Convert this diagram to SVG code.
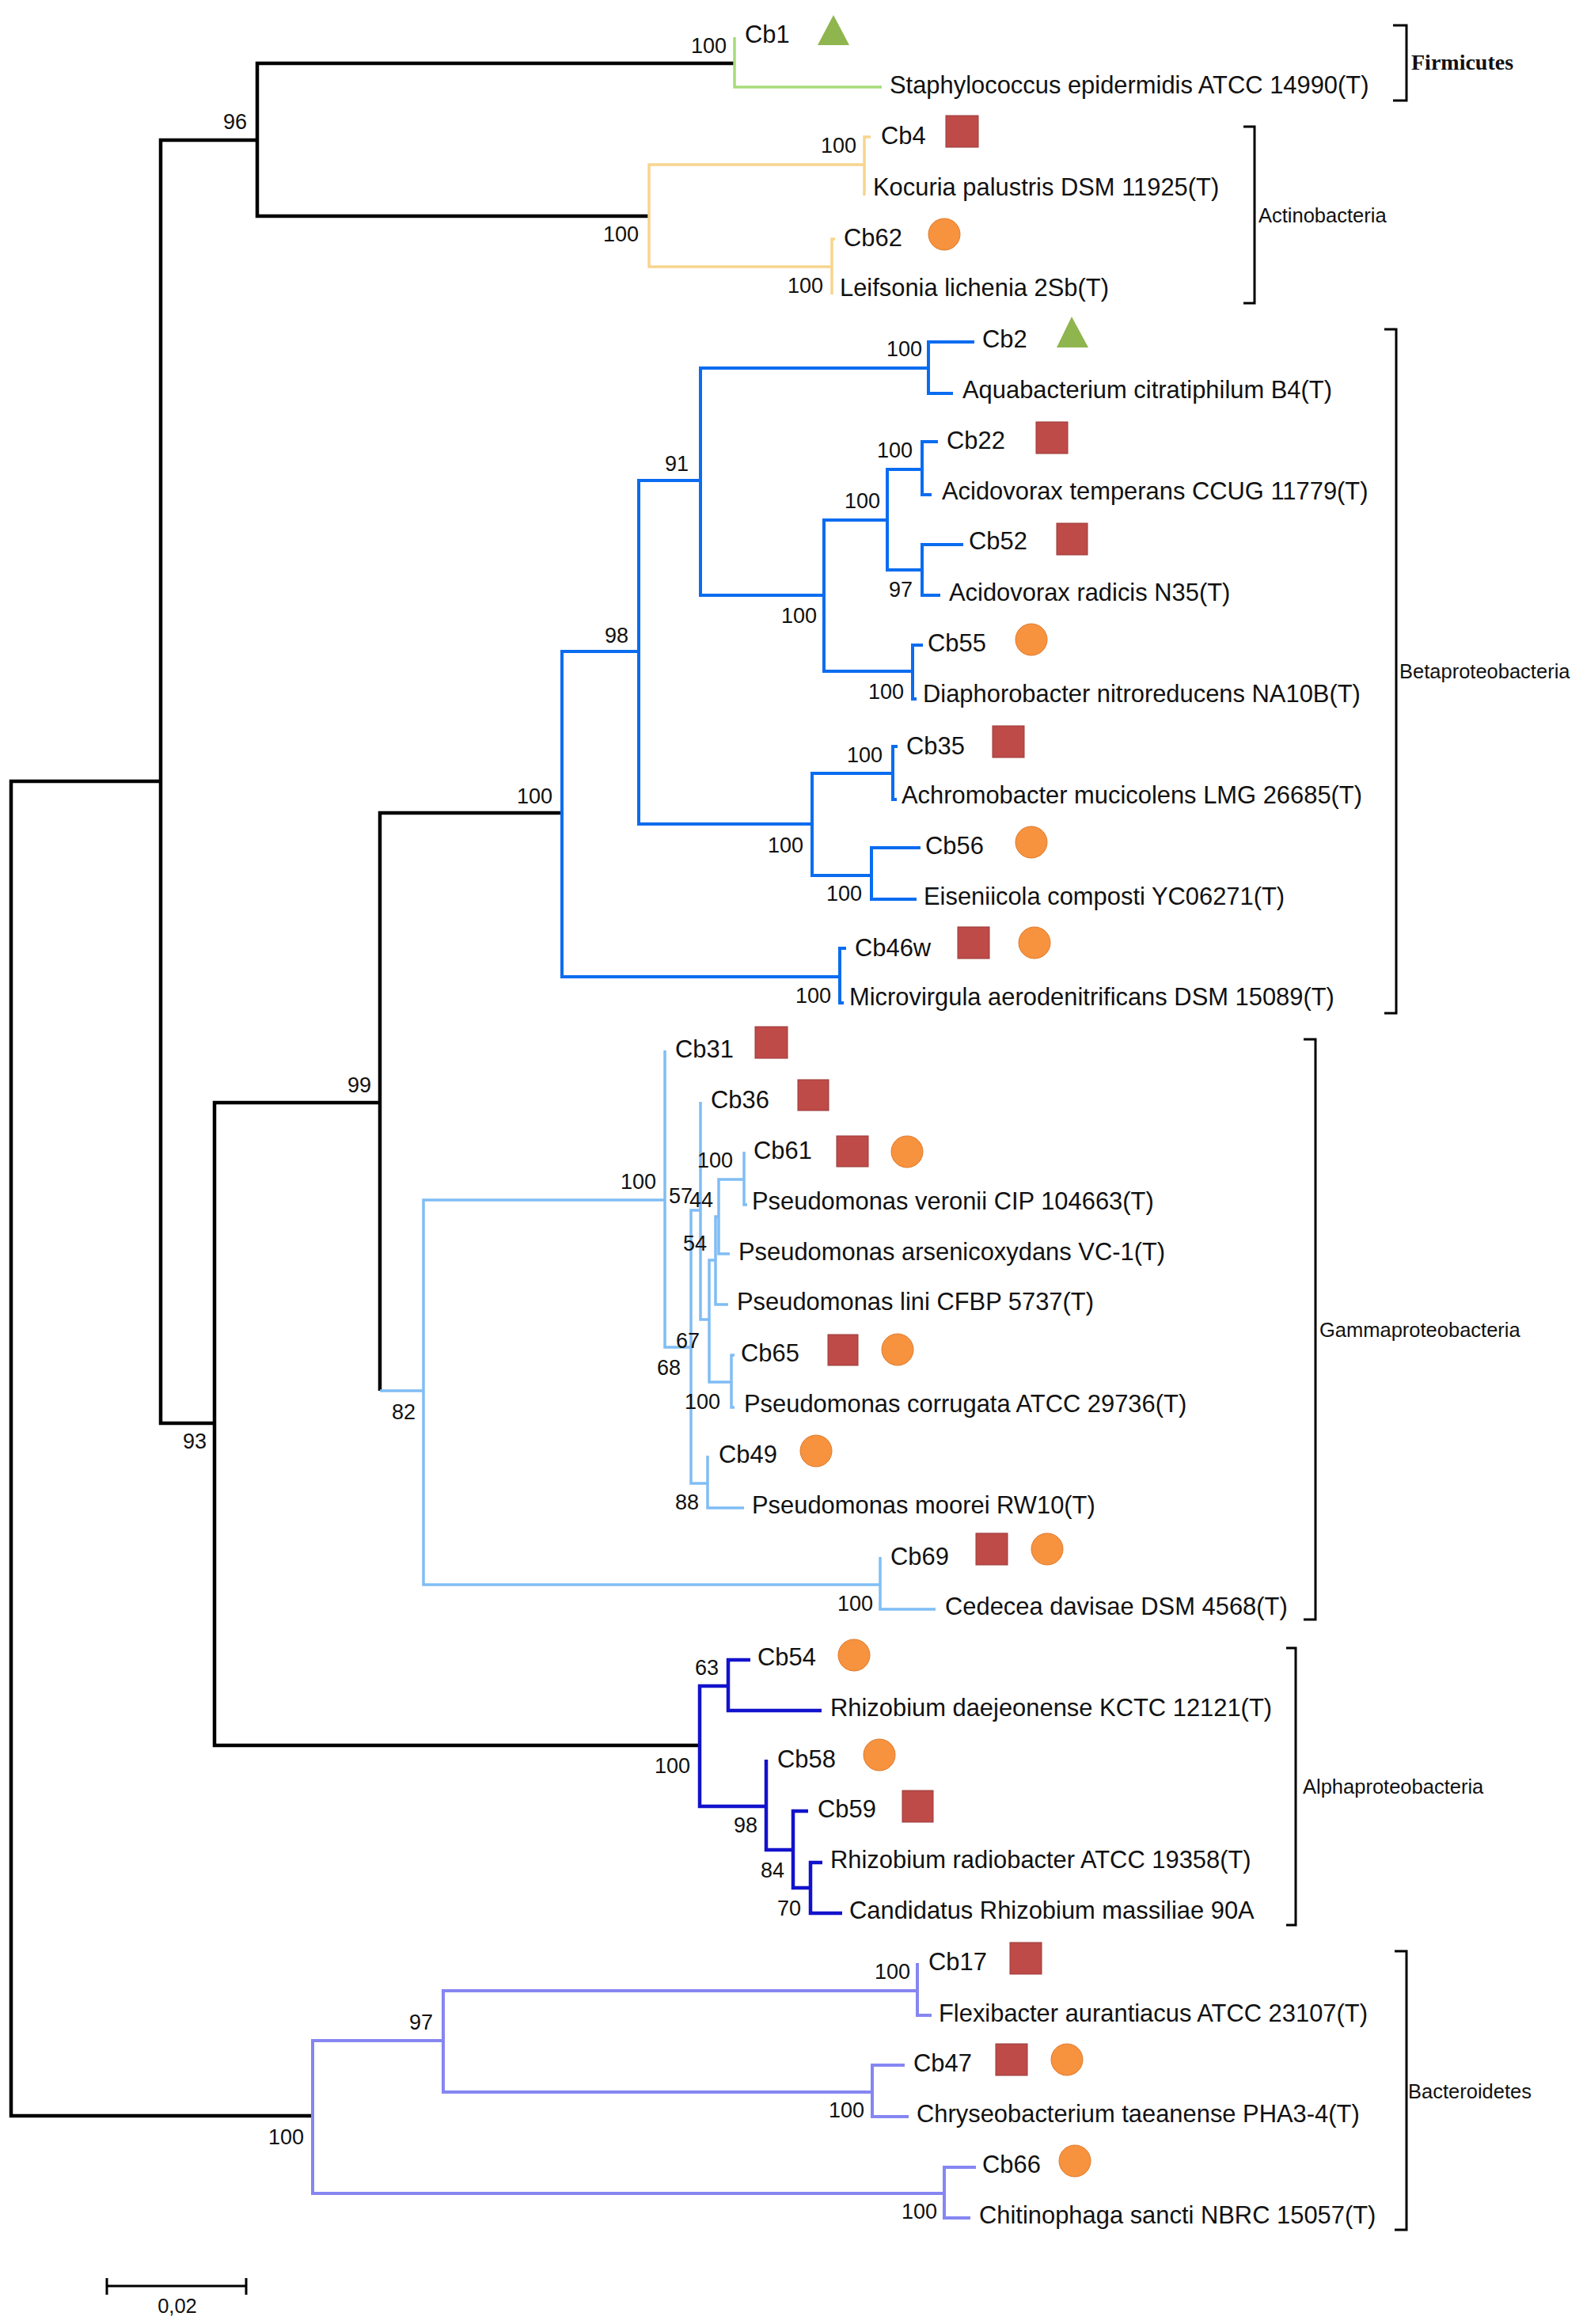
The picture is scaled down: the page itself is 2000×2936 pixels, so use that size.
<svg xmlns="http://www.w3.org/2000/svg" width="2000" height="2936" viewBox="0 0 2000 2936">
<style>
.t{font-family:"Liberation Sans",Arial,sans-serif;font-size:30.9px;fill:#111}
.b{font-family:"Liberation Sans",Arial,sans-serif;font-size:27px;fill:#111;text-anchor:end}
.c{font-family:"Liberation Sans",Arial,sans-serif;font-size:25.5px;fill:#111}
.f{font-family:"Liberation Serif","Times New Roman",serif;font-size:28px;font-weight:bold;fill:#111}
.e{fill:none;stroke-linejoin:miter;stroke-linecap:butt}
.k{stroke:#000;stroke-width:4.5}
.g{stroke:#A6DB7B;stroke-width:3.5}
.o{stroke:#F7D58E;stroke-width:3.5}
.bb{stroke:#0A6CF0;stroke-width:4}
.lb{stroke:#80BDF5;stroke-width:3.5}
.ab{stroke:#1212CC;stroke-width:4.5}
.vb{stroke:#8686F2;stroke-width:4}
.br{fill:none;stroke:#000;stroke-width:3}
.sq{fill:#BE4B48;stroke:#9a3a38;stroke-width:1}
.ci{fill:#F7923F;stroke:#e07a2a;stroke-width:1}
.tr{fill:#8FB54E}
</style>
<rect width="2000" height="2936" fill="#fff"/>
<g id="connectors">
  <!-- black backbone -->
  <path class="e k" d="M203,987 H14 V2673 H395"/>
  <path class="e k" d="M325,177 H203 V1798 H271"/>
  <path class="e k" d="M928,80 H325 V273 H820"/>
  <path class="e k" d="M480,1393 H271 V2205 H884"/>
  <path class="e k" d="M710,1027 H480 V1757"/>
  <!-- Firmicutes -->
  <path class="e g" d="M928,47 V110 H1114"/>
  <!-- Actinobacteria -->
  <path class="e o" d="M1092,208 H820 V337 H1051"/>
  <path class="e o" d="M1100,173 H1092 V247"/>
  <path class="e o" d="M1055,302 H1051 V372"/>
  <!-- Betaproteobacteria -->
  <path class="e bb" d="M807,823 H710 V1234 H1061"/>
  <path class="e bb" d="M885,607 H807 V1041 H1026"/>
  <path class="e bb" d="M1173,465 H885 V752 H1041"/>
  <path class="e bb" d="M1231,432 H1173 V497 H1204"/>
  <path class="e bb" d="M1121,657 H1041 V848 H1153"/>
  <path class="e bb" d="M1165,593 H1121 V720 H1165"/>
  <path class="e bb" d="M1185,558 H1165 V625 H1177"/>
  <path class="e bb" d="M1217,688 H1165 V752 H1188"/>
  <path class="e bb" d="M1166,815 H1153 V883 H1158"/>
  <path class="e bb" d="M1128,977 H1026 V1106 H1101"/>
  <path class="e bb" d="M1134,943 H1128 V1010 H1133"/>
  <path class="e bb" d="M1163,1071 H1101 V1136 H1158"/>
  <path class="e bb" d="M1069,1198 H1061 V1267 H1066"/>
  <!-- Gammaproteobacteria -->
  <path class="e lb" d="M480,1757 H535"/>
  <path class="e lb" d="M840,1516 H535 V2002 H1112"/>
  <path class="e lb" d="M840,1327 V1702 H873"/>
  <path class="e lb" d="M885,1529 H873 V1874 H894"/>
  <path class="e lb" d="M885,1392 V1667 H896"/>
  <path class="e lb" d="M904,1592 H896 V1746 H924"/>
  <path class="e lb" d="M908,1537 H904 V1648 H920"/>
  <path class="e lb" d="M940,1490 H908 V1584 H922"/>
  <path class="e lb" d="M940,1455 V1522 H944"/>
  <path class="e lb" d="M928,1712 H924 V1778 H928"/>
  <path class="e lb" d="M894,1839 V1905 H940"/>
  <path class="e lb" d="M1112,1967 V2033 H1182"/>
  <!-- Alphaproteobacteria -->
  <path class="e ab" d="M920,2130 H884 V2282 H968"/>
  <path class="e ab" d="M948,2097 H920 V2161 H1038"/>
  <path class="e ab" d="M968,2223 V2337 H1002"/>
  <path class="e ab" d="M1021,2288 H1002 V2385 H1024"/>
  <path class="e ab" d="M1039,2353 H1024 V2417 H1064"/>
  <!-- Bacteroidetes -->
  <path class="e vb" d="M560,2578 H395 V2771 H1193"/>
  <path class="e vb" d="M1159,2515 H560 V2643 H1102"/>
  <path class="e vb" d="M1159,2480 V2546 H1177"/>
  <path class="e vb" d="M1143,2609 H1102 V2674 H1148"/>
  <path class="e vb" d="M1233,2738 H1193 V2802 H1226"/>
</g>
<g id="bootstrap">
  <text class="b" x="918" y="67">100</text>
  <text class="b" x="312" y="163">96</text>
  <text class="b" x="807" y="305">100</text>
  <text class="b" x="1082" y="193">100</text>
  <text class="b" x="1040" y="370">100</text>
  <text class="b" x="1165" y="450">100</text>
  <text class="b" x="870" y="595">91</text>
  <text class="b" x="794" y="812">98</text>
  <text class="b" x="698" y="1015">100</text>
  <text class="b" x="1153" y="578">100</text>
  <text class="b" x="1112" y="642">100</text>
  <text class="b" x="1153" y="754">97</text>
  <text class="b" x="1032" y="787">100</text>
  <text class="b" x="1142" y="883">100</text>
  <text class="b" x="1115" y="963">100</text>
  <text class="b" x="1015" y="1077">100</text>
  <text class="b" x="1089" y="1138">100</text>
  <text class="b" x="1050" y="1267">100</text>
  <text class="b" x="469" y="1380">99</text>
  <text class="b" x="829" y="1502">100</text>
  <text class="b" x="875" y="1520">57</text>
  <text class="b" x="901" y="1525">44</text>
  <text class="b" x="893" y="1580">54</text>
  <text class="b" x="884" y="1703">67</text>
  <text class="b" x="860" y="1737">68</text>
  <text class="b" x="926" y="1475">100</text>
  <text class="b" x="910" y="1780">100</text>
  <text class="b" x="883" y="1907">88</text>
  <text class="b" x="525" y="1793">82</text>
  <text class="b" x="1103" y="2035">100</text>
  <text class="b" x="261" y="1830">93</text>
  <text class="b" x="872" y="2240">100</text>
  <text class="b" x="908" y="2116">63</text>
  <text class="b" x="957" y="2315">98</text>
  <text class="b" x="991" y="2372">84</text>
  <text class="b" x="1012" y="2420">70</text>
  <text class="b" x="384" y="2709">100</text>
  <text class="b" x="547" y="2564">97</text>
  <text class="b" x="1150" y="2500">100</text>
  <text class="b" x="1092" y="2675">100</text>
  <text class="b" x="1184" y="2803">100</text>
</g>
<g id="n-Cb1"><text class="t" x="941" y="54">Cb1</text><polygon class="tr" points="1053,19 1073,57 1033,57"/></g>
<g id="n-Staph"><text class="t" x="1124" y="118">Staphylococcus epidermidis ATCC 14990(T)</text></g>
<g id="n-Cb4"><text class="t" x="1113" y="182">Cb4</text><rect class="sq" x="1195" y="146" width="41" height="40"/></g>
<g id="n-Kocuria"><text class="t" x="1103" y="247">Kocuria palustris DSM 11925(T)</text></g>
<g id="n-Cb62"><text class="t" x="1066" y="311">Cb62</text><circle class="ci" cx="1193" cy="296" r="20"/></g>
<g id="n-Leifsonia"><text class="t" x="1061" y="374">Leifsonia lichenia 2Sb(T)</text></g>
<g id="n-Cb2"><text class="t" x="1241" y="439">Cb2</text><polygon class="tr" points="1354,400 1375,439 1335,439"/></g>
<g id="n-Aquabacterium"><text class="t" x="1216" y="503">Aquabacterium citratiphilum B4(T)</text></g>
<g id="n-Cb22"><text class="t" x="1196" y="567">Cb22</text><rect class="sq" x="1309" y="533" width="40" height="40"/></g>
<g id="n-Atemperans"><text class="t" x="1190" y="631">Acidovorax temperans CCUG 11779(T)</text></g>
<g id="n-Cb52"><text class="t" x="1224" y="694">Cb52</text><rect class="sq" x="1335" y="661" width="39" height="40"/></g>
<g id="n-Aradicis"><text class="t" x="1199" y="759">Acidovorax radicis N35(T)</text></g>
<g id="n-Cb55"><text class="t" x="1172" y="823">Cb55</text><circle class="ci" cx="1303" cy="808" r="20"/></g>
<g id="n-Diaphorobacter"><text class="t" x="1166" y="887">Diaphorobacter nitroreducens NA10B(T)</text></g>
<g id="n-Cb35"><text class="t" x="1145" y="953">Cb35</text><rect class="sq" x="1254" y="917" width="40" height="40"/></g>
<g id="n-Achromobacter"><text class="t" x="1139" y="1015">Achromobacter mucicolens LMG 26685(T)</text></g>
<g id="n-Cb56"><text class="t" x="1169" y="1079">Cb56</text><circle class="ci" cx="1303" cy="1064" r="20"/></g>
<g id="n-Eiseniicola"><text class="t" x="1167" y="1143">Eiseniicola composti YC06271(T)</text></g>
<g id="n-Cb46w"><text class="t" x="1080" y="1208">Cb46w</text><rect class="sq" x="1210" y="1171" width="40" height="40"/><circle class="ci" cx="1307" cy="1191" r="20"/></g>
<g id="n-Microvirgula"><text class="t" x="1073" y="1270">Microvirgula aerodenitrificans DSM 15089(T)</text></g>
<g id="n-Cb31"><text class="t" x="853" y="1336">Cb31</text><rect class="sq" x="954" y="1297" width="41" height="40"/></g>
<g id="n-Cb36"><text class="t" x="898" y="1400">Cb36</text><rect class="sq" x="1008" y="1364" width="39" height="39"/></g>
<g id="n-Cb61"><text class="t" x="952" y="1464">Cb61</text><rect class="sq" x="1057" y="1435" width="40" height="39"/><circle class="ci" cx="1146" cy="1455" r="20"/></g>
<g id="n-Pveronii"><text class="t" x="950" y="1528">Pseudomonas veronii CIP 104663(T)</text></g>
<g id="n-Parsenicoxydans"><text class="t" x="933" y="1592">Pseudomonas arsenicoxydans VC-1(T)</text></g>
<g id="n-Plini"><text class="t" x="931" y="1655">Pseudomonas lini CFBP 5737(T)</text></g>
<g id="n-Cb65"><text class="t" x="936" y="1720">Cb65</text><rect class="sq" x="1046" y="1686" width="38" height="39"/><circle class="ci" cx="1134" cy="1705" r="20"/></g>
<g id="n-Pcorrugata"><text class="t" x="940" y="1784">Pseudomonas corrugata ATCC 29736(T)</text></g>
<g id="n-Cb49"><text class="t" x="908" y="1848">Cb49</text><circle class="ci" cx="1031" cy="1833" r="20"/></g>
<g id="n-Pmoorei"><text class="t" x="950" y="1912">Pseudomonas moorei RW10(T)</text></g>
<g id="n-Cb69"><text class="t" x="1125" y="1977">Cb69</text><rect class="sq" x="1233" y="1937" width="40" height="40"/><circle class="ci" cx="1323" cy="1957" r="20"/></g>
<g id="n-Cedecea"><text class="t" x="1194" y="2040">Cedecea davisae DSM 4568(T)</text></g>
<g id="n-Cb54"><text class="t" x="957" y="2104">Cb54</text><circle class="ci" cx="1079" cy="2091" r="20"/></g>
<g id="n-Rdaejeonense"><text class="t" x="1049" y="2168">Rhizobium daejeonense KCTC 12121(T)</text></g>
<g id="n-Cb58"><text class="t" x="982" y="2233">Cb58</text><circle class="ci" cx="1111" cy="2217" r="20"/></g>
<g id="n-Cb59"><text class="t" x="1033" y="2296">Cb59</text><rect class="sq" x="1140" y="2262" width="39" height="40"/></g>
<g id="n-Rradiobacter"><text class="t" x="1049" y="2360">Rhizobium radiobacter ATCC 19358(T)</text></g>
<g id="n-Rmassiliae"><text class="t" x="1073" y="2424">Candidatus Rhizobium massiliae 90A</text></g>
<g id="n-Cb17"><text class="t" x="1173" y="2489">Cb17</text><rect class="sq" x="1276" y="2454" width="40" height="40"/></g>
<g id="n-Flexibacter"><text class="t" x="1186" y="2554">Flexibacter aurantiacus ATCC 23107(T)</text></g>
<g id="n-Cb47"><text class="t" x="1154" y="2617">Cb47</text><rect class="sq" x="1258" y="2582" width="40" height="40"/><circle class="ci" cx="1348" cy="2602" r="20"/></g>
<g id="n-Chryseobacterium"><text class="t" x="1158" y="2681">Chryseobacterium taeanense PHA3-4(T)</text></g>
<g id="n-Cb66"><text class="t" x="1241" y="2745">Cb66</text><circle class="ci" cx="1358" cy="2730" r="20"/></g>
<g id="n-Chitinophaga"><text class="t" x="1237" y="2809">Chitinophaga sancti NBRC 15057(T)</text></g>
<g id="clades">
  <path class="br" d="M1760,32 H1777 V127 H1760"/>
  <text class="f" x="1783" y="88">Firmicutes</text>
  <path class="br" d="M1571,160 H1585 V383 H1571"/>
  <text class="c" x="1590" y="281">Actinobacteria</text>
  <path class="br" d="M1749,416 H1764 V1280 H1749"/>
  <text class="c" x="1768" y="857">Betaproteobacteria</text>
  <path class="br" d="M1647,1313 H1662 V2046 H1647"/>
  <text class="c" x="1667" y="1689">Gammaproteobacteria</text>
  <path class="br" d="M1625,2082 H1637 V2432 H1625"/>
  <text class="c" x="1646" y="2266">Alphaproteobacteria</text>
  <path class="br" d="M1762,2465 H1777 V2817 H1762"/>
  <text class="c" x="1779" y="2651">Bacteroidetes</text>
</g>
<g id="scale">
  <path class="br" d="M135,2888 H311 M135,2878 V2899 M311,2878 V2899"/>
  <text class="c" x="224" y="2922" text-anchor="middle">0,02</text>
</g>
</svg>
